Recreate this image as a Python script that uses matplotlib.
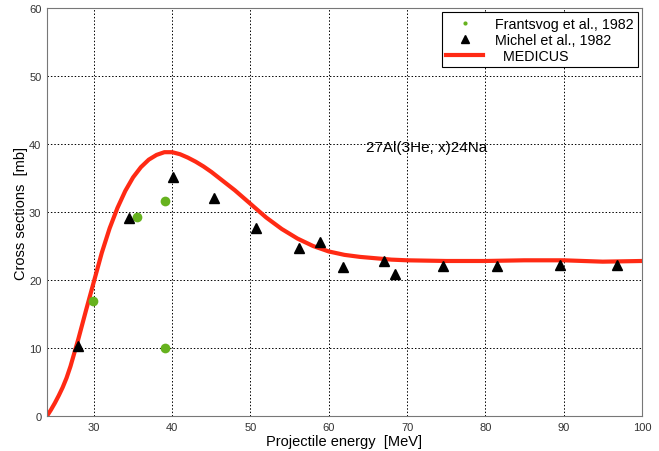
import matplotlib
matplotlib.use("Agg")
import matplotlib.pyplot as plt

plt.rcParams["font.family"] = ["Liberation Sans", "DejaVu Sans"]

# Frantsvog et al., 1982
fr_energy = [29.9, 35.5, 39.1, 39.1]
fr_xs = [16.9, 29.3, 31.6, 10.0]

# Michel et al., 1982
mi_energy = [28.0, 34.5, 40.1, 45.4, 50.7, 56.2, 58.9, 61.8, 67.0, 68.4,
             74.6, 81.5, 89.5, 96.8]
mi_xs = [10.3, 29.1, 35.1, 32.0, 27.6, 24.7, 25.6, 21.9, 22.8, 20.9,
         22.1, 22.0, 22.2, 22.2]

# MEDICUS curve
med_energy = [24, 24.5, 25, 25.5, 26, 26.5, 27, 28, 29, 30, 31, 32, 33, 34,
              35, 36, 37, 38, 39, 40, 41, 42, 43, 44, 45, 46, 47, 48, 49,
              50, 52, 54, 56, 58, 60, 62, 64, 66, 68, 70, 75, 80, 85, 90,
              95, 100]
med_xs = [0, 0.9, 1.9, 3.0, 4.2, 5.6, 7.3, 11.3, 15.6, 19.8, 24.0, 27.6,
          30.6, 33.1, 35.1, 36.6, 37.7, 38.4, 38.8, 38.8, 38.5, 38.0, 37.4,
          36.7, 35.9, 35.0, 34.1, 33.2, 32.2, 31.2, 29.2, 27.5, 26.1, 25.0,
          24.2, 23.7, 23.4, 23.2, 23.0, 22.9, 22.8, 22.8, 22.9, 22.9, 22.7,
          22.8]

fig = plt.figure(figsize=(6.59, 4.52), dpi=100)
ax = fig.add_axes([0.0713, 0.0774, 0.9027, 0.9026])

ax.plot(fr_energy, fr_xs, "o", color="#66b21e", markersize=7, mec="none",
        label="Frantsvog et al., 1982", zorder=3)
ax.plot(mi_energy, mi_xs, "^", color="black", markersize=7,
        label="Michel et al., 1982", zorder=3)
ax.plot(med_energy, med_xs, "-", color="#ff2a14", lw=3,
        label="  MEDICUS", zorder=2)

ax.set_xlim(24, 100)
ax.set_ylim(0, 60)
ax.set_xticks(range(30, 101, 10))
ax.set_yticks(range(0, 61, 10))
ax.grid(True, linestyle=(0, (1.5, 2)), color="black", linewidth=0.7)
ax.tick_params(labelsize=8, labelcolor="#333333", length=0, pad=4)
for s in ax.spines.values():
    s.set_color("#777777")

ax.set_xlabel("Projectile energy  [MeV]", fontsize=10.5, labelpad=2)
ax.set_ylabel("Cross sections  [mb]", fontsize=10.5, labelpad=1)

ax.text(64.7, 39.5, "27Al(3He, x)24Na", fontsize=11, va="center")

leg = ax.legend(loc="upper right", fontsize=10.3, fancybox=False,
                framealpha=1, edgecolor="black", borderaxespad=0.3,
                handlelength=2.6, borderpad=0.3, labelspacing=0.15)
leg.legend_handles[0].set_markersize(3)
leg.legend_handles[1].set_markersize(6)
leg.get_frame().set_linewidth(0.8)

fig.savefig("out.png", dpi=100)
